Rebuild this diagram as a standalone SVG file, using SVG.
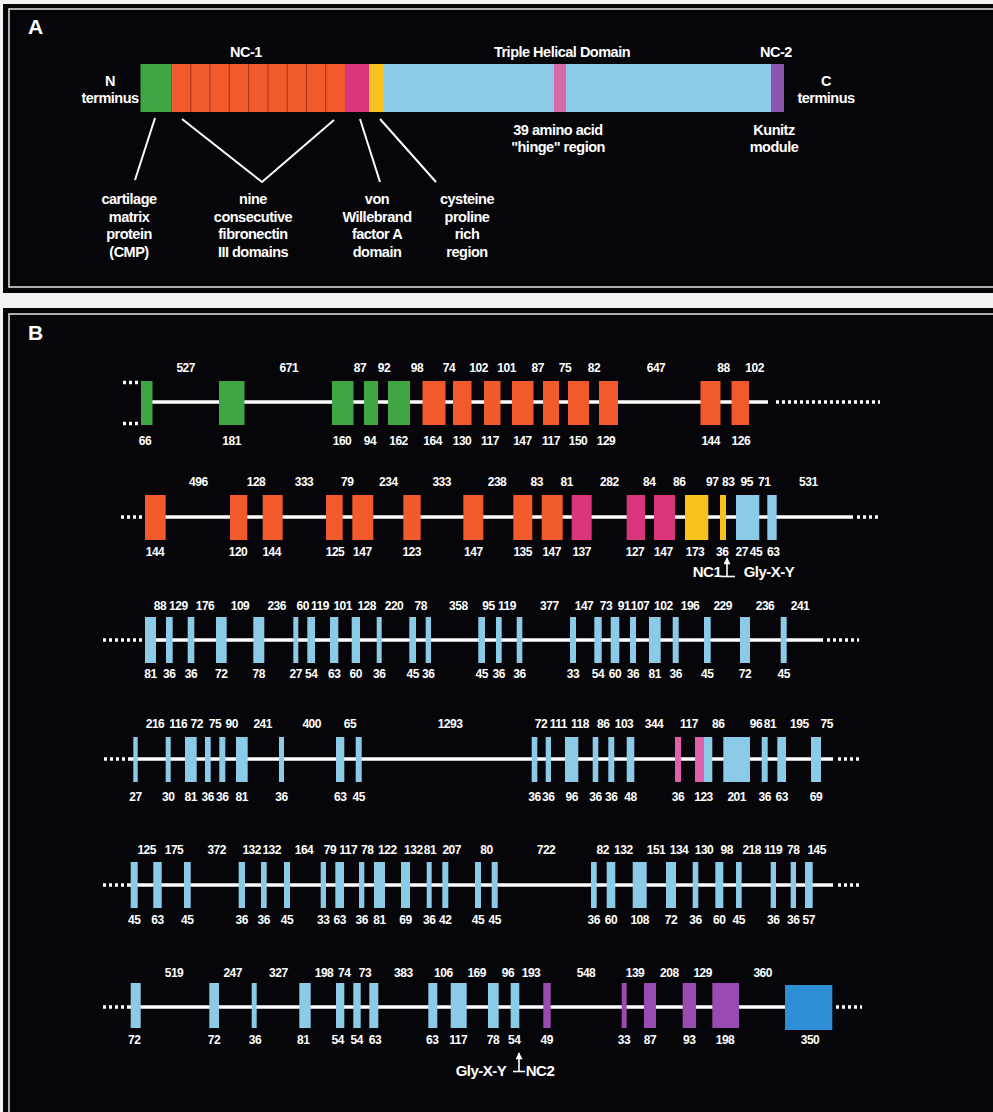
<svg xmlns="http://www.w3.org/2000/svg" width="993" height="1112" viewBox="0 0 993 1112">
<defs>
<style>
.panel{fill:#06060a}
.frame{fill:none;stroke:#d8d8d8;stroke-width:1.6}
.t{font-family:"Liberation Sans",Arial,sans-serif;font-weight:bold;fill:#ffffff;text-anchor:middle}
.big{font-size:21px;text-anchor:start}
.lab{font-size:14.5px;letter-spacing:-0.5px}
.n{font-size:12px;letter-spacing:-0.5px}
.ann{font-size:15px;letter-spacing:-0.5px}
.lead{stroke:#ffffff;stroke-width:2;fill:none}
.axis{stroke:#ffffff;stroke-width:3.5;fill:none}
.dots{stroke:#ffffff;stroke-width:3.5;stroke-dasharray:3 3;fill:none}
.ptr{stroke:#ffffff;stroke-width:1.6;fill:none}
.g{fill:#3fa643}
.o{fill:#f15a2b}
.m{fill:#d9357a}
.y{fill:#f7c21b}
.b{fill:#8ccbe8}
.h{fill:#e05fa8}
.p{fill:#9a4bb2}
.bb{fill:#2d8fd6}
.div{stroke:#a8321a;stroke-width:1}
</style>
<marker id="up" viewBox="0 0 10 10" refX="9" refY="5" markerWidth="8" markerHeight="7" orient="auto" markerUnits="userSpaceOnUse">
<path d="M0,0 L10,5 L0,10 Z" fill="#ffffff"/>
</marker>
</defs>

<rect x="0" y="0" width="993" height="1112" fill="#f2f2f2"/>

<!-- Panel A: domain map of the protein -->
<g id="panelA">
<rect class="panel" x="3" y="4" width="990" height="289"/>
<rect class="frame" x="9" y="9" width="990" height="278"/>
<text class="t big" x="28" y="34">A</text>
<text class="t lab" x="246" y="57">NC-1</text>
<text class="t lab" x="562" y="57">Triple Helical Domain</text>
<text class="t lab" x="776" y="57">NC-2</text>
<text class="t lab" x="110" y="86">N</text>
<text class="t lab" x="110" y="103">terminus</text>
<text class="t lab" x="826" y="86">C</text>
<text class="t lab" x="826" y="103">terminus</text>

<g id="domain-cmp"><rect class="g" x="140.5" y="64" width="31" height="48"/></g>
<g id="domain-fn3">
<rect class="o" x="171.5" y="64" width="173.5" height="48"/>
<path class="div" d="M190.8,64V112M210,64V112M229.3,64V112M248.6,64V112M267.9,64V112M287.2,64V112M306.4,64V112M325.7,64V112"/>
</g>
<g id="domain-vwa"><rect class="m" x="345" y="64" width="24" height="48"/></g>
<g id="domain-cys"><rect class="y" x="369" y="64" width="15" height="48"/></g>
<g id="domain-helix">
<rect class="b" x="384" y="64" width="387" height="48"/>
<rect fill="#d966aa" x="554" y="64" width="12" height="48"/>
</g>
<g id="domain-kunitz"><rect fill="#8e55b0" x="771" y="64" width="13" height="48"/></g>

<text class="t lab" x="558" y="135">39 amino acid</text>
<text class="t lab" x="558" y="152">"hinge" region</text>
<text class="t lab" x="774" y="135">Kunitz</text>
<text class="t lab" x="774" y="152">module</text>

<g id="leaders">
<path class="lead" d="M155,118L135,180"/>
<path class="lead" d="M182,119L262,182L334,120"/>
<path class="lead" d="M360,119L380,182"/>
<path class="lead" d="M380,119L436,182"/>
</g>

<text class="t lab" x="129" y="204">cartilage</text>
<text class="t lab" x="129" y="222">matrix</text>
<text class="t lab" x="129" y="239">protein</text>
<text class="t lab" x="129" y="257">(CMP)</text>
<text class="t lab" x="253" y="204">nine</text>
<text class="t lab" x="253" y="222">consecutive</text>
<text class="t lab" x="253" y="239">fibronectin</text>
<text class="t lab" x="253" y="257">III domains</text>
<text class="t lab" x="377" y="204">von</text>
<text class="t lab" x="377" y="222">Willebrand</text>
<text class="t lab" x="377" y="239">factor A</text>
<text class="t lab" x="377" y="257">domain</text>
<text class="t lab" x="467" y="204">cysteine</text>
<text class="t lab" x="467" y="222">proline</text>
<text class="t lab" x="467" y="239">rich</text>
<text class="t lab" x="467" y="257">region</text>
</g>

<!-- Panel B: exon/intron organisation of the gene -->
<rect class="panel" x="3" y="308" width="990" height="810"/>
<rect class="frame" x="9" y="314" width="990" height="810"/>
<text class="t big" x="28" y="340">B</text>

<g id="connectors">
<path class="axis" d="M141,402H768"/>
<path class="dots" d="M776,402H880"/>
<path class="dots" d="M123,382.5H141M123,423.5H141"/>
<path class="dots" d="M121,517H145"/>
<path class="axis" d="M145,517H853"/>
<path class="dots" d="M857,517H879"/>
<path class="dots" d="M103,640H145"/>
<path class="axis" d="M145,640H823"/>
<path class="dots" d="M827,640H859"/>
<path class="dots" d="M104,759H130"/>
<path class="axis" d="M130,759H833"/>
<path class="dots" d="M838,759H862"/>
<path class="dots" d="M103,885H128"/>
<path class="axis" d="M128,885H833"/>
<path class="dots" d="M838,885H862"/>
<path class="dots" d="M103,1007H128"/>
<path class="axis" d="M128,1007H832"/>
<path class="dots" d="M836,1007H862"/>
<path class="ptr" d="M727,576V558" marker-end="url(#up)"/>
<path class="ptr" d="M721,576.5H735"/>
<path class="ptr" d="M519,1071V1053" marker-end="url(#up)"/>
<path class="ptr" d="M513,1071.5H525"/>
</g>

<g id="row1">
<rect class="g" x="141" y="381" width="11.5" height="44"/>
<rect class="g" x="219" y="381" width="25.5" height="44"/>
<rect class="g" x="332" y="381" width="21.5" height="44"/>
<rect class="g" x="364" y="381" width="14" height="44"/>
<rect class="g" x="388" y="381" width="22" height="44"/>
<rect class="o" x="422.5" y="381" width="23" height="44"/>
<rect class="o" x="453" y="381" width="18.5" height="44"/>
<rect class="o" x="484" y="381" width="16.5" height="44"/>
<rect class="o" x="512" y="381" width="21.5" height="44"/>
<rect class="o" x="543" y="381" width="16" height="44"/>
<rect class="o" x="568" y="381" width="21" height="44"/>
<rect class="o" x="599" y="381" width="19" height="44"/>
<rect class="o" x="700.5" y="381" width="20" height="44"/>
<rect class="o" x="731.5" y="381" width="17.5" height="44"/>
<g class="t n">
<text x="185.7" y="372">527</text><text x="288.8" y="372">671</text><text x="360" y="372">87</text><text x="384" y="372">92</text><text x="417" y="372">98</text><text x="449" y="372">74</text><text x="478.6" y="372">102</text><text x="506.6" y="372">101</text><text x="537.8" y="372">87</text><text x="565" y="372">75</text><text x="594" y="372">82</text><text x="656" y="372">647</text><text x="723.5" y="372">88</text><text x="754.6" y="372">102</text>
<text x="145" y="445">66</text><text x="231.6" y="445">181</text><text x="342" y="445">160</text><text x="370" y="445">94</text><text x="398.5" y="445">162</text><text x="432.6" y="445">164</text><text x="462" y="445">130</text><text x="490" y="445">117</text><text x="522.4" y="445">147</text><text x="551" y="445">117</text><text x="578" y="445">150</text><text x="606" y="445">129</text><text x="710.7" y="445">144</text><text x="740.8" y="445">126</text>
</g>
</g>

<g id="row2">
<rect class="o" x="145" y="495" width="20.7" height="45"/>
<rect class="o" x="230" y="495" width="17.3" height="45"/>
<rect class="o" x="262.7" y="495" width="20" height="45"/>
<rect class="o" x="326" y="495" width="16.7" height="45"/>
<rect class="o" x="352.3" y="495" width="21" height="45"/>
<rect class="o" x="403.3" y="495" width="17.4" height="45"/>
<rect class="o" x="463.3" y="495" width="20" height="45"/>
<rect class="o" x="513.3" y="495" width="19" height="45"/>
<rect class="o" x="541.7" y="495" width="21" height="45"/>
<rect class="m" x="571.7" y="495" width="20" height="45"/>
<rect class="m" x="626.7" y="495" width="18.3" height="45"/>
<rect class="m" x="654" y="495" width="21" height="45"/>
<rect class="y" x="685" y="495" width="23.3" height="45"/>
<rect class="y" x="720" y="495" width="6" height="45"/>
<rect class="b" x="736" y="495" width="23.3" height="45"/>
<rect class="b" x="767.3" y="495" width="9.4" height="45"/>
<g class="t n">
<text x="198.3" y="486">496</text><text x="256" y="486">128</text><text x="304" y="486">333</text><text x="347.3" y="486">79</text><text x="388.3" y="486">234</text><text x="441.7" y="486">333</text><text x="497" y="486">238</text><text x="536.7" y="486">83</text><text x="566.7" y="486">81</text><text x="609.3" y="486">282</text><text x="649.3" y="486">84</text><text x="679.3" y="486">86</text><text x="712.3" y="486">97</text><text x="728.3" y="486">83</text><text x="746.7" y="486">95</text><text x="764.3" y="486">71</text><text x="808.3" y="486">531</text>
<text x="155" y="556">144</text><text x="238" y="556">120</text><text x="271.7" y="556">144</text><text x="335" y="556">125</text><text x="362.3" y="556">147</text><text x="411.7" y="556">123</text><text x="473.3" y="556">147</text><text x="522.7" y="556">135</text><text x="551.7" y="556">147</text><text x="581.7" y="556">137</text><text x="635" y="556">127</text><text x="663.3" y="556">147</text><text x="695" y="556">173</text><text x="722.3" y="556">36</text><text x="741.7" y="556">27</text><text x="756" y="556">45</text><text x="773.3" y="556">63</text>
</g>
<text class="t ann" x="707" y="577">NC1</text>
<text class="t ann" x="769" y="577">Gly-X-Y</text>
</g>

<g id="row3">
<g class="b">
<rect x="145" y="617" width="11" height="46"/>
<rect x="166" y="617" width="6.7" height="46"/>
<rect x="187.7" y="617" width="6.6" height="46"/>
<rect x="216" y="617" width="10.7" height="46"/>
<rect x="253.3" y="617" width="11" height="46"/>
<rect x="293.3" y="617" width="5" height="46"/>
<rect x="307.3" y="617" width="7.7" height="46"/>
<rect x="330" y="617" width="8.3" height="46"/>
<rect x="351.7" y="617" width="8.3" height="46"/>
<rect x="376.7" y="617" width="5" height="46"/>
<rect x="409.3" y="617" width="6.7" height="46"/>
<rect x="425.7" y="617" width="5.3" height="46"/>
<rect x="478.3" y="617" width="6.7" height="46"/>
<rect x="496" y="617" width="5.7" height="46"/>
<rect x="516.7" y="617" width="5.6" height="46"/>
<rect x="570" y="617" width="6" height="46"/>
<rect x="594.3" y="617" width="7.4" height="46"/>
<rect x="610.7" y="617" width="8.6" height="46"/>
<rect x="630" y="617" width="6" height="46"/>
<rect x="649" y="617" width="11.7" height="46"/>
<rect x="672.7" y="617" width="6" height="46"/>
<rect x="704" y="617" width="6.7" height="46"/>
<rect x="740" y="617" width="10" height="46"/>
<rect x="780.7" y="617" width="6" height="46"/>
</g>
<g class="t n">
<text x="160" y="610">88</text><text x="178.3" y="610">129</text><text x="205" y="610">176</text><text x="240" y="610">109</text><text x="276.7" y="610">236</text><text x="302.7" y="610">60</text><text x="320" y="610">119</text><text x="342.7" y="610">101</text><text x="366.7" y="610">128</text><text x="394" y="610">220</text><text x="420.7" y="610">78</text><text x="458.3" y="610">358</text><text x="488.5" y="610">95</text><text x="507" y="610">119</text><text x="549.3" y="610">377</text><text x="584" y="610">147</text><text x="606" y="610">73</text><text x="624" y="610">91</text><text x="640" y="610">107</text><text x="663.3" y="610">102</text><text x="690" y="610">196</text><text x="722.7" y="610">229</text><text x="765" y="610">236</text><text x="800" y="610">241</text>
<text x="150.5" y="678">81</text><text x="169.3" y="678">36</text><text x="191" y="678">36</text><text x="221.3" y="678">72</text><text x="258.8" y="678">78</text><text x="295.8" y="678">27</text><text x="311.2" y="678">54</text><text x="334.2" y="678">63</text><text x="355.8" y="678">60</text><text x="379.2" y="678">36</text><text x="412.7" y="678">45</text><text x="428.3" y="678">36</text><text x="481.7" y="678">45</text><text x="498.8" y="678">36</text><text x="519.5" y="678">36</text><text x="573" y="678">33</text><text x="598" y="678">54</text><text x="615" y="678">60</text><text x="633" y="678">36</text><text x="654.8" y="678">81</text><text x="675.7" y="678">36</text><text x="707.3" y="678">45</text><text x="745" y="678">72</text><text x="783.7" y="678">45</text>
</g>
</g>

<g id="row4">
<g class="b">
<rect x="133.3" y="737" width="4.4" height="45"/>
<rect x="165.7" y="737" width="5" height="45"/>
<rect x="185" y="737" width="11.7" height="45"/>
<rect x="205" y="737" width="5.7" height="45"/>
<rect x="219.3" y="737" width="6" height="45"/>
<rect x="236" y="737" width="11.7" height="45"/>
<rect x="279" y="737" width="5" height="45"/>
<rect x="336" y="737" width="8.3" height="45"/>
<rect x="355.7" y="737" width="6" height="45"/>
<rect x="531.7" y="737" width="5.6" height="45"/>
<rect x="545.7" y="737" width="5.3" height="45"/>
<rect x="565" y="737" width="13.3" height="45"/>
<rect x="592.7" y="737" width="5.6" height="45"/>
<rect x="608.3" y="737" width="6" height="45"/>
<rect x="626.7" y="737" width="7.6" height="45"/>
<rect x="704" y="737" width="8.3" height="45"/>
<rect x="723.3" y="737" width="26.7" height="45"/>
<rect x="761.7" y="737" width="6" height="45"/>
<rect x="777.3" y="737" width="8.7" height="45"/>
<rect x="811" y="737" width="10" height="45"/>
</g>
<rect class="h" x="675" y="737" width="6" height="45"/>
<rect class="h" x="695" y="737" width="9" height="45"/>
<g class="t n">
<text x="155" y="728">216</text><text x="178.3" y="728">116</text><text x="196.7" y="728">72</text><text x="215" y="728">75</text><text x="231.7" y="728">90</text><text x="262.7" y="728">241</text><text x="311.7" y="728">400</text><text x="350" y="728">65</text><text x="450" y="728">1293</text><text x="541" y="728">72</text><text x="558.3" y="728">111</text><text x="580" y="728">118</text><text x="603.3" y="728">86</text><text x="624" y="728">103</text><text x="654" y="728">344</text><text x="689" y="728">117</text><text x="718.3" y="728">86</text><text x="756" y="728">96</text><text x="770" y="728">81</text><text x="799.3" y="728">195</text><text x="826.7" y="728">75</text>
<text x="135.5" y="801">27</text><text x="168.2" y="801">30</text><text x="190.8" y="801">81</text><text x="207.8" y="801">36</text><text x="222.3" y="801">36</text><text x="241.8" y="801">81</text><text x="281.5" y="801">36</text><text x="340.2" y="801">63</text><text x="358.7" y="801">45</text><text x="534.5" y="801">36</text><text x="548.3" y="801">36</text><text x="571.7" y="801">96</text><text x="595.5" y="801">36</text><text x="611.3" y="801">36</text><text x="630.5" y="801">48</text><text x="678" y="801">36</text><text x="703.5" y="801">123</text><text x="736.7" y="801">201</text><text x="764.7" y="801">36</text><text x="781.7" y="801">63</text><text x="816" y="801">69</text>
</g>
</g>

<g id="row5">
<g class="b">
<rect x="130.7" y="862" width="7" height="46"/>
<rect x="153.3" y="862" width="8.4" height="46"/>
<rect x="184" y="862" width="6.7" height="46"/>
<rect x="238.7" y="862" width="6.3" height="46"/>
<rect x="261" y="862" width="5.7" height="46"/>
<rect x="284" y="862" width="6" height="46"/>
<rect x="320.7" y="862" width="5.3" height="46"/>
<rect x="335.3" y="862" width="8.7" height="46"/>
<rect x="359" y="862" width="5.3" height="46"/>
<rect x="374" y="862" width="11" height="46"/>
<rect x="401" y="862" width="9" height="46"/>
<rect x="426.7" y="862" width="5" height="46"/>
<rect x="442.3" y="862" width="6" height="46"/>
<rect x="475" y="862" width="6" height="46"/>
<rect x="491.7" y="862" width="6" height="46"/>
<rect x="591" y="862" width="5.7" height="46"/>
<rect x="606.7" y="862" width="8.6" height="46"/>
<rect x="632.7" y="862" width="14" height="46"/>
<rect x="666" y="862" width="10" height="46"/>
<rect x="692.7" y="862" width="5.6" height="46"/>
<rect x="715.3" y="862" width="8" height="46"/>
<rect x="736" y="862" width="5.7" height="46"/>
<rect x="770.7" y="862" width="5.3" height="46"/>
<rect x="790.7" y="862" width="5.3" height="46"/>
<rect x="805" y="862" width="7.7" height="46"/>
</g>
<g class="t n">
<text x="146.7" y="854">125</text><text x="174" y="854">175</text><text x="216.7" y="854">372</text><text x="251.7" y="854">132</text><text x="271.7" y="854">132</text><text x="304" y="854">164</text><text x="330" y="854">79</text><text x="348.3" y="854">117</text><text x="367.3" y="854">78</text><text x="387.3" y="854">122</text><text x="413.3" y="854">132</text><text x="430" y="854">81</text><text x="451.7" y="854">207</text><text x="486.5" y="854">80</text><text x="546" y="854">722</text><text x="602.7" y="854">82</text><text x="623.3" y="854">132</text><text x="656" y="854">151</text><text x="679" y="854">134</text><text x="704" y="854">130</text><text x="726.7" y="854">98</text><text x="751.7" y="854">218</text><text x="773.3" y="854">119</text><text x="793.3" y="854">78</text><text x="816.7" y="854">145</text>
<text x="134.2" y="924">45</text><text x="157.5" y="924">63</text><text x="187.3" y="924">45</text><text x="241.8" y="924">36</text><text x="263.8" y="924">36</text><text x="287" y="924">45</text><text x="323.3" y="924">33</text><text x="339.7" y="924">63</text><text x="361.7" y="924">36</text><text x="379.5" y="924">81</text><text x="405.5" y="924">69</text><text x="429.2" y="924">36</text><text x="445.3" y="924">42</text><text x="478" y="924">45</text><text x="494.7" y="924">45</text><text x="593.8" y="924">36</text><text x="611" y="924">60</text><text x="639.7" y="924">108</text><text x="671" y="924">72</text><text x="695.5" y="924">36</text><text x="719.3" y="924">60</text><text x="738.8" y="924">45</text><text x="773.3" y="924">36</text><text x="793.3" y="924">36</text><text x="808.8" y="924">57</text>
</g>
</g>

<g id="row6">
<g class="b">
<rect x="130.7" y="983" width="10" height="45"/>
<rect x="209.3" y="983" width="9.7" height="45"/>
<rect x="251.7" y="983" width="5" height="45"/>
<rect x="299.3" y="983" width="11.4" height="45"/>
<rect x="336" y="983" width="8.3" height="45"/>
<rect x="353.3" y="983" width="7.4" height="45"/>
<rect x="369.3" y="983" width="9" height="45"/>
<rect x="428.3" y="983" width="9" height="45"/>
<rect x="450.7" y="983" width="16" height="45"/>
<rect x="488" y="983" width="10.7" height="45"/>
<rect x="510.7" y="983" width="8.6" height="45"/>
</g>
<g class="p">
<rect x="543.3" y="983" width="7.4" height="45"/>
<rect x="621.7" y="983" width="5" height="45"/>
<rect x="644" y="983" width="12" height="45"/>
<rect x="682.7" y="983" width="13.3" height="45"/>
<rect x="712.3" y="983" width="26.7" height="45"/>
</g>
<rect class="bb" x="785" y="985" width="47.3" height="45"/>
<g class="t n">
<text x="174" y="977">519</text><text x="232.7" y="977">247</text><text x="278.3" y="977">327</text><text x="324" y="977">198</text><text x="344.3" y="977">74</text><text x="365" y="977">73</text><text x="403.3" y="977">383</text><text x="443.3" y="977">106</text><text x="476.7" y="977">169</text><text x="508" y="977">96</text><text x="531" y="977">193</text><text x="586" y="977">548</text><text x="635" y="977">139</text><text x="669.3" y="977">208</text><text x="702.7" y="977">129</text><text x="762.7" y="977">360</text>
<text x="134.3" y="1044">72</text><text x="214" y="1044">72</text><text x="255" y="1044">36</text><text x="303.3" y="1044">81</text><text x="337.7" y="1044">54</text><text x="356.7" y="1044">54</text><text x="375" y="1044">63</text><text x="432.3" y="1044">63</text><text x="458.3" y="1044">117</text><text x="493" y="1044">78</text><text x="514.3" y="1044">54</text><text x="546.7" y="1044">49</text><text x="624" y="1044">33</text><text x="650" y="1044">87</text><text x="689.3" y="1044">93</text><text x="725" y="1044">198</text><text x="810" y="1044">350</text>
</g>
<text class="t ann" x="481" y="1076">Gly-X-Y</text>
<text class="t ann" x="540" y="1076">NC2</text>
</g>
</svg>
